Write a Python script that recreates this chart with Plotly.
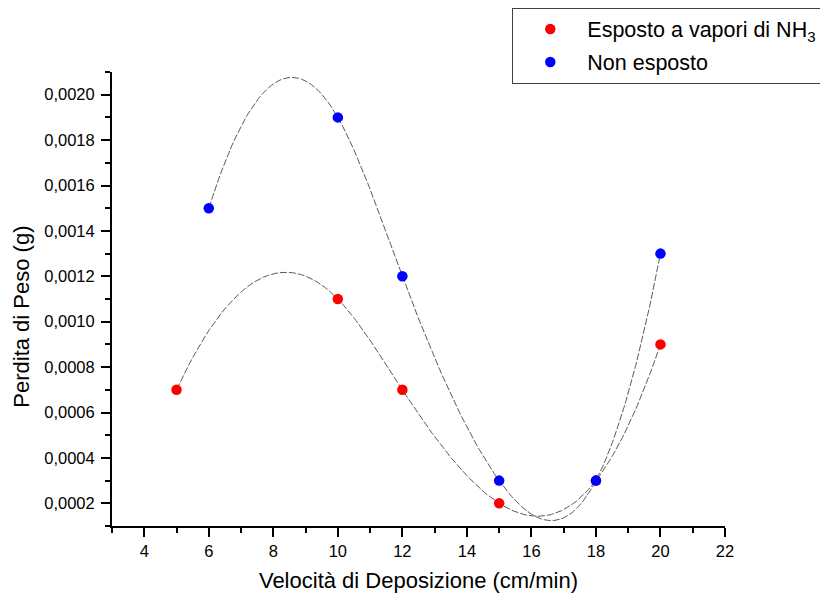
import numpy as np
import plotly.graph_objects as go

# ---- Data ----
x_esposto = [5, 10, 12, 15, 18, 20]
y_esposto = [0.0007, 0.0011, 0.0007, 0.0002, 0.0003, 0.0009]
x_non = [6, 10, 12, 15, 18, 20]
y_non = [0.0015, 0.0019, 0.0012, 0.0003, 0.0003, 0.0013]

name_esposto = "Esposto a vapori di NH<sub>3</sub>"
name_non = "Non esposto"
x_title = "Velocità di Deposizione (cm/min)"
y_title = "Perdita di Peso (g)"

FONT = "Liberation Sans, Arial, sans-serif"


def spline_connector(xs, ys, n=40):
    """Cubic spline (parabolic run-out ends) connecting the data points."""
    x = np.asarray(xs, float)
    y = np.asarray(ys, float)
    k = len(x)
    h = np.diff(x)
    s = np.diff(y) / h
    A = np.zeros((k, k))
    r = np.zeros(k)
    A[0, 0], A[0, 1] = 1, -1
    A[-1, -1], A[-1, -2] = 1, -1
    for i in range(1, k - 1):
        A[i, i - 1] = h[i - 1]
        A[i, i] = 2 * (h[i - 1] + h[i])
        A[i, i + 1] = h[i]
        r[i] = 6 * (s[i] - s[i - 1])
    M = np.linalg.solve(A, r)
    xo, yo = [], []
    for i in range(k - 1):
        t = np.linspace(x[i], x[i + 1], n)
        a = x[i + 1] - t
        b = t - x[i]
        v = (M[i] * a**3 + M[i + 1] * b**3) / (6 * h[i]) \
            + (y[i] / h[i] - M[i] * h[i] / 6) * a \
            + (y[i + 1] / h[i] - M[i + 1] * h[i] / 6) * b
        xo.extend(t.tolist())
        yo.extend(v.tolist())
    return xo, yo


line_style = dict(color="#5a5a5a", width=1, dash="7px,2px")

fig = go.Figure()
for xs, ys in ((x_esposto, y_esposto), (x_non, y_non)):
    cx, cy = spline_connector(xs, ys)
    fig.add_trace(go.Scatter(x=cx, y=cy, mode="lines", line=line_style,
                             showlegend=False, hoverinfo="skip"))
fig.add_trace(go.Scatter(x=x_esposto, y=y_esposto, mode="markers", name=name_esposto,
                         legendgroup="a", marker=dict(color="#ff0000", size=10.5)))
fig.add_trace(go.Scatter(x=x_non, y=y_non, mode="markers", name=name_non,
                         legendgroup="b", marker=dict(color="#0000ff", size=10.5)))

axis_common = dict(showgrid=False, zeroline=False, showline=True, linecolor="black",
                   linewidth=2, ticks="outside", tickcolor="black", ticklen=9,
                   tickwidth=2, mirror=False,
                   tickfont=dict(family=FONT, size=16.5, color="black"))

fig.update_xaxes(range=[3, 22], tick0=4, dtick=2,
                 minor=dict(ticks="outside", ticklen=5, tickwidth=1.5, tickcolor="black",
                            dtick=1, tick0=3),
                 title=dict(text=x_title, font=dict(family=FONT, size=22, color="black"),
                            standoff=14),
                 **axis_common)
fig.update_yaxes(range=[0.0001, 0.0021], tick0=0.0002, dtick=0.0002, tickformat=".4f",
                 minor=dict(ticks="outside", ticklen=5, tickwidth=1.5, tickcolor="black",
                            dtick=0.0001, tick0=0.0001),
                 ticklabelstandoff=3,
                 **axis_common)

# y-axis title (placed a little below the axis centre, as in the reference)
fig.add_annotation(text=y_title, textangle=-90, xref="paper", yref="paper",
                   x=0, y=0.461, xanchor="center", yanchor="middle", xshift=-90,
                   showarrow=False, font=dict(family=FONT, size=22, color="black"))

fig.update_layout(
    width=820, height=587,
    separators=",.",
    paper_bgcolor="white", plot_bgcolor="white",
    margin=dict(l=104, r=103, t=64, b=69, autoexpand=False),
    font=dict(family=FONT, size=21.5, color="black"),
    legend=dict(x=0.653, y=1.142, xanchor="left", yanchor="top",
                bordercolor="#404040", borderwidth=1, bgcolor="white",
                font=dict(family=FONT, size=21.5, color="black"),
                itemwidth=64, tracegroupgap=2),
)

fig.write_html("out.html")
